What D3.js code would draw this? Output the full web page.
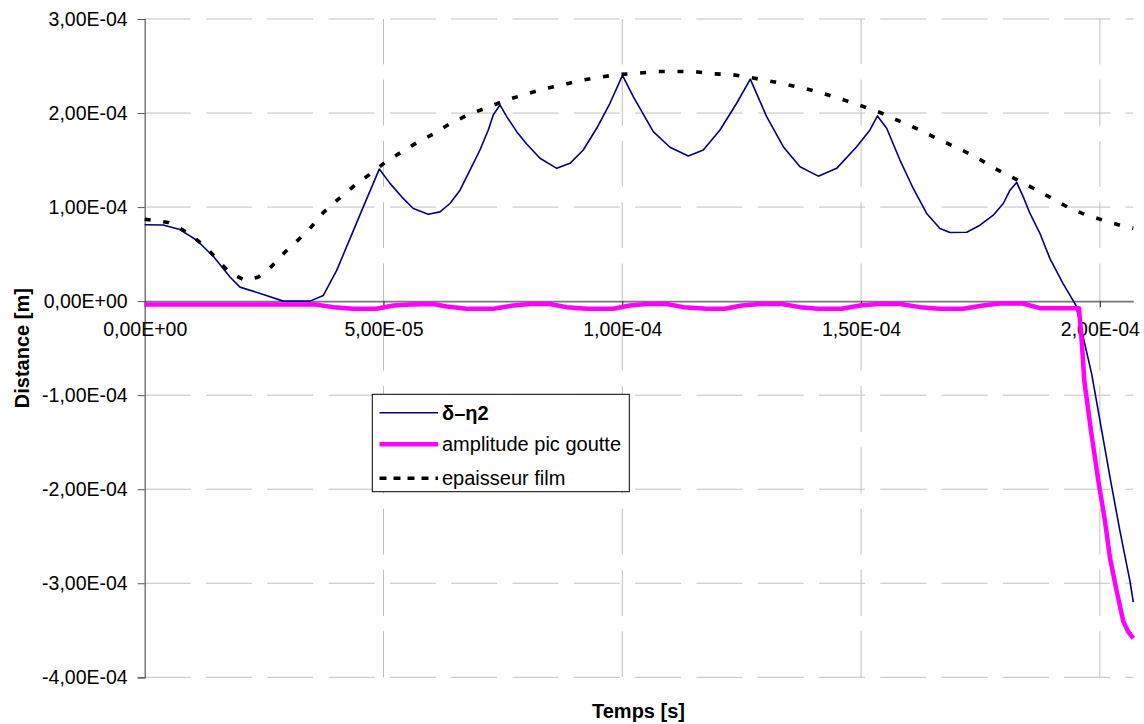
<!DOCTYPE html>
<html>
<head>
<meta charset="utf-8">
<script src="https://cdn.jsdelivr.net/npm/d3@7"></script>
<style>
  html, body { margin: 0; padding: 0; background: #fff; }
  svg { display: block; }
  text { font-family: "Liberation Sans", Arial, sans-serif; fill: #000; }
</style>
</head>
<body>
<svg id="chart" width="1144" height="724"></svg>
<script>
// ---- Data (time in units of 1e-5 s, distance in units of 1e-4 m) ----
const deltaEtaTime = [0, 0.383, 0.739, 1.089, 1.436, 1.786, 1.995, 2.483, 2.902, 3.461, 3.740, 4.020, 4.299, 4.577, 4.912,
  5.136, 5.381, 5.624, 5.938, 6.183, 6.392, 6.602, 6.811, 7.020, 7.194, 7.299, 7.439, 7.580, 7.789, 7.998, 8.277, 8.627,
  8.905, 9.183, 9.464, 9.742, 10.004, 10.230, 10.649, 10.999, 11.382, 11.696, 12.046, 12.395, 12.680, 13.023, 13.371,
  13.721, 14.104, 14.489, 14.908, 15.186, 15.343, 15.536, 15.814, 16.093, 16.373, 16.652, 16.861, 17.211, 17.489, 17.768,
  17.977, 18.118, 18.258, 18.396, 18.536, 18.746, 18.955, 19.227, 19.499, 19.828, 20.226, 20.421, 20.630, 20.700];
const deltaEtaValue = [0.812, 0.810, 0.761, 0.647, 0.477, 0.256, 0.149, 0.071, 0.0, 0.0, 0.061, 0.327, 0.665, 1.002, 1.404,
  1.252, 1.109, 0.985, 0.924, 0.949, 1.038, 1.180, 1.394, 1.607, 1.820, 1.980, 2.086, 1.962, 1.802, 1.671, 1.519, 1.412,
  1.465, 1.607, 1.838, 2.104, 2.401, 2.175, 1.802, 1.636, 1.543, 1.607, 1.820, 2.104, 2.360, 1.962, 1.642,
  1.429, 1.329, 1.412, 1.642, 1.820, 1.969, 1.838, 1.500, 1.198, 0.932, 0.772, 0.729, 0.732, 0.807, 0.914,
  1.038, 1.180, 1.262, 1.109, 0.932, 0.719, 0.452, 0.189, -0.046, -0.774, -1.912, -2.445, -2.978, -3.200];

const amplitudeTime = [0, 3.566, 3.949, 4.368, 4.858, 5.205, 5.555, 6.043, 6.323, 6.742, 7.299, 7.718, 8.067, 8.486, 8.836,
  9.255, 9.811, 10.161, 10.511, 10.930, 11.277, 11.767, 12.150, 12.506, 12.883, 13.344, 13.721, 14.098, 14.600, 14.977,
  15.354, 15.814, 16.233, 16.652, 17.134, 17.552, 17.908, 18.390, 18.746, 19.563, 19.619, 19.674, 19.814, 19.967, 20.107,
  20.211, 20.352, 20.490, 20.589, 20.700];
const amplitudeValue = [-0.035, -0.035, -0.064, -0.081, -0.081, -0.046, -0.035, -0.030, -0.057, -0.081, -0.081, -0.046, -0.030, -0.030, -0.064,
  -0.081, -0.081, -0.046, -0.030, -0.030, -0.064, -0.081, -0.081, -0.046, -0.030, -0.030, -0.064, -0.081, -0.081, -0.046,
  -0.030, -0.030, -0.064, -0.081, -0.081, -0.046, -0.025, -0.025, -0.075, -0.075, -0.419, -0.845, -1.378, -1.909, -2.338,
  -2.729, -3.084, -3.404, -3.511, -3.585];

const filmTime = [0, 0.147, 0.494, 0.775, 1.018, 1.298, 1.577, 1.786, 2.100, 2.379, 2.659, 2.938, 3.183, 3.461, 3.740,
  4.054, 4.403, 4.753, 5.052, 5.354, 5.695, 6.043, 6.407, 6.796, 7.194, 7.580, 7.984, 8.360, 8.752, 9.150, 9.541, 9.927,
  10.335, 10.720, 11.118, 11.507, 11.884, 12.290, 12.688, 13.071, 13.476, 13.861, 14.244, 14.636, 15.040, 15.421, 15.793,
  16.198, 16.583, 16.987, 17.385, 17.761, 18.139, 18.551, 18.941, 19.317, 19.673, 20.071, 20.421, 20.700];
const filmValue = [0.871, 0.860, 0.836, 0.764, 0.682, 0.565, 0.409, 0.302, 0.221, 0.256, 0.370, 0.522, 0.636, 0.772, 0.942,
  1.084, 1.233, 1.364, 1.482, 1.578, 1.684, 1.777, 1.891, 1.987, 2.062, 2.140, 2.200, 2.257, 2.300, 2.348, 2.383, 2.409,
  2.424, 2.441, 2.441, 2.441, 2.417, 2.409, 2.377, 2.342, 2.300, 2.257, 2.202, 2.140, 2.071, 2.001, 1.916,
  1.827, 1.731, 1.635, 1.539, 1.422, 1.322, 1.215, 1.109, 1.002, 0.924, 0.860, 0.807, 0.775];

const seriesNames = ["δ–η2", "amplitude pic goutte", "epaisseur film"];
const xTickValues = [0, 5e-5, 1e-4, 1.5e-4, 2e-4];
const yTickValues = [-4e-4, -3e-4, -2e-4, -1e-4, 0, 1e-4, 2e-4, 3e-4];
const xTitle = "Temps [s]";
const yTitle = "Distance [m]";

// ---- Layout ----
const svg = d3.select("#chart");
const pLeft = 144.7, pRight = 1133.3, pTop = 19, pBottom = 677.3;
const x = d3.scaleLinear().domain([0, 2.07e-4]).range([pLeft, pRight]);
const y = d3.scaleLinear().domain([-4e-4, 3e-4]).range([pBottom, pTop]);

function fmtE(v) {
  const s = (Math.abs(v) < 1e-15 ? 0 : v).toExponential(2);
  let [m, e] = s.split("e");
  const sign = e[0] === "-" ? "-" : "+";
  let digits = e.replace(/^[+-]/, "");
  if (digits.length < 2) digits = "0" + digits;
  return m.replace(".", ",") + "E" + sign + digits;
}

const grid = svg.append("g");
grid.selectAll("line.h").data(yTickValues.filter(v => v !== 0)).join("line")
  .attr("x1", pLeft).attr("x2", pRight)
  .attr("y1", d => y(d)).attr("y2", d => y(d))
  .attr("stroke", "#c0c0c0").attr("stroke-width", 1)
  .attr("stroke-dasharray", "46,15.3");
grid.selectAll("line.v").data(xTickValues.filter(v => v !== 0)).join("line")
  .attr("x1", d => x(d)).attr("x2", d => x(d))
  .attr("y1", pBottom).attr("y2", pTop)
  .attr("stroke", "#c0c0c0").attr("stroke-width", 1)
  .attr("stroke-dasharray", "46,15.3");

const yAxis = svg.append("g").attr("transform", `translate(${pLeft},0)`)
  .call(d3.axisLeft(y).tickValues(yTickValues).tickFormat(fmtE).tickSize(7).tickPadding(10));
yAxis.select(".domain").attr("stroke", "#555").attr("stroke-width", 1.2);
yAxis.selectAll(".tick line").attr("stroke", "#555");
yAxis.selectAll(".tick text").style("font-size", "19.5px").style("font-family", '"Liberation Sans", Arial, sans-serif').attr("fill", "#000");

const xAxis = svg.append("g").attr("transform", `translate(0,${y(0)})`)
  .call(d3.axisBottom(x).tickValues(xTickValues).tickFormat(fmtE).tickSize(6).tickPadding(15.5).tickSizeOuter(0));
xAxis.select(".domain").attr("stroke", "#777").attr("stroke-width", 1.6);
xAxis.selectAll(".tick line").attr("stroke", "#222");
xAxis.selectAll(".tick text").style("font-size", "19.5px").style("font-family", '"Liberation Sans", Arial, sans-serif').attr("fill", "#000");

const line = d3.line().x(d => x(d[0] * 1e-5)).y(d => y(d[1] * 1e-4));
const navyData = deltaEtaTime.map((t, i) => [t, deltaEtaValue[i]]);
const magData = amplitudeTime.map((t, i) => [t, amplitudeValue[i]]);
const filmData = filmTime.map((t, i) => [t, filmValue[i]]);

svg.append("path").datum(navyData).attr("d", line)
  .attr("fill", "none").attr("stroke", "#000080").attr("stroke-width", 1.6).attr("stroke-linejoin", "round");
svg.append("path").datum(magData).attr("d", line)
  .attr("fill", "none").attr("stroke", "#ff00ff").attr("stroke-width", 4.5).attr("stroke-linejoin", "round");
svg.append("path").datum(filmData).attr("d", line)
  .attr("fill", "none").attr("stroke", "#000").attr("stroke-width", 3.6).attr("stroke-dasharray", "6,12.7");

svg.append("text").attr("x", 638.5).attr("y", 718).attr("text-anchor", "middle")
  .style("font-size", "20px").style("font-weight", "bold").text(xTitle);
svg.append("text").attr("transform", `translate(29,${(pTop + pBottom) / 2}) rotate(-90)`).attr("text-anchor", "middle")
  .style("font-size", "20px").style("font-weight", "bold").text(yTitle);

const lg = svg.append("g");
lg.append("rect").attr("x", 372.3).attr("y", 394.3).attr("width", 257).attr("height", 97.4)
  .attr("fill", "#fff").attr("stroke", "#000").attr("stroke-width", 1);
const legendStyles = [
  { stroke: "#000080", width: 1.6, dash: null, y: 412.7, bold: true },
  { stroke: "#ff00ff", width: 4.5, dash: null, y: 444.3, bold: false },
  { stroke: "#000", width: 3.6, dash: "7,7", y: 478.3, bold: false }
];
seriesNames.forEach((name, i) => {
  const s = legendStyles[i];
  lg.append("line").attr("x1", 379.5).attr("x2", 438).attr("y1", s.y).attr("y2", s.y)
    .attr("stroke", s.stroke).attr("stroke-width", s.width)
    .attr("stroke-dasharray", s.dash);
  lg.append("text").attr("x", 442).attr("y", s.y + 7)
    .style("font-size", "20px").style("font-weight", s.bold ? "bold" : "normal").text(name);
});
</script>
</body>
</html>
